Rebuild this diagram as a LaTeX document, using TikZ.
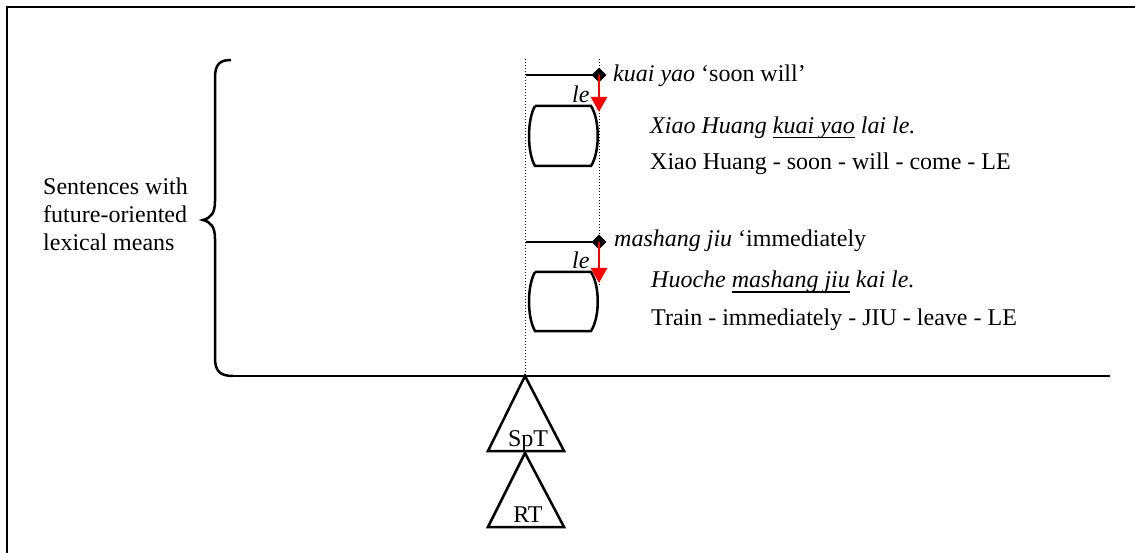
\documentclass[tikz,border=0pt]{standalone}
\usepackage{fontspec}
\setmainfont{Liberation Serif}
\usetikzlibrary{arrows.meta,shapes.geometric}
% underline at a fixed depth below the baseline
\newcommand\ulword[1]{\setbox0\hbox{#1}\rlap{\rule[-4.5pt]{\wd0}{1.4pt}}\box0\relax}

\begin{document}
\begin{tikzpicture}[x=1pt,y=-1pt,
  txt/.style={inner sep=0pt, anchor=base west, font=\fontsize{24}{28}\selectfont},
  ctxt/.style={inner sep=0pt, anchor=base, font=\fontsize{24}{28}\selectfont},
  itxt/.style={txt, font=\itshape\fontsize{24}{28}\selectfont},
  solid line/.style={line width=2.5pt},
  guide/.style={line width=1pt, dash pattern=on 1pt off 2pt},
  tipmark/.style={diamond, fill=black, inner sep=0pt, minimum size=15pt},
  lexarrow/.style={red, line width=2.5pt, -{Triangle[width=16pt,length=15pt]}},
  barrel/.style={line width=2.5pt}]
\useasboundingbox (0,0) rectangle (1135,553);
\begin{scope}
  \clip (0,0) rectangle (1135,553);
  \draw[line width=2.5pt] (7,7) rectangle (1160,580);
\end{scope}

% time guides
\coordinate (g1top) at (525.5,59);
\coordinate (g1bot) at (525.5,376);
\coordinate (g2top) at (599,59);
\coordinate (g2bot) at (599,285);
\draw[guide] (g1top) -- (g1bot);
\draw[guide] (g2top) -- (g2bot);

% main time line
\coordinate (tl0) at (232,376);
\coordinate (tl1) at (1110,376);
\draw[solid line] (tl0) -- (tl1);

% brace
\draw[solid line] (231,60) .. controls (220,60) and (215,64) .. (215,78)
  -- (215,201) .. controls (215,213) and (211,218) .. (203,220)
  .. controls (211,222) and (215,227) .. (215,239)
  -- (215,358) .. controls (215,371) and (220,376) .. (233,376);
\node[txt] (lbl1) at (43,195) {Sentences with};
\node[txt] (lbl2) at (43,223) {future-oriented};
\node[txt] (lbl3) at (43,251) {lexical means};

% first example
\coordinate (h1) at (525.5,75);
\node[tipmark] (d1) at (599,75) {};
\coordinate (a1) at (599,112);
\draw[solid line] (h1) -- (d1.center);
\draw[lexarrow] (d1.center) -- (a1);
\node[itxt] (le1) at (572,103) {le};
\draw[barrel] (535,106) -- (591,106) .. controls (600,120) and (600,152) .. (591,166)
  -- (535,166) .. controls (527,152) and (527,120) .. (535,106);
\node[txt] (w1) at (613,82) {\textit{kuai yao} ‘soon will’};
\node[itxt] (s1) at (650,134) {Xiao Huang \ulword{kuai yao} lai le.};
\node[txt] (t1) at (650,170) {Xiao Huang - soon - will - come - LE};

% second example
\coordinate (h2) at (525.5,242);
\node[tipmark] (d2) at (599,242) {};
\coordinate (a2) at (599,283);
\draw[solid line] (h2) -- (d2.center);
\draw[lexarrow] (d2.center) -- (a2);
\node[itxt] (le2) at (572,269) {le};
\draw[barrel] (535,272) -- (591,272) .. controls (600,286) and (600,317) .. (591,331)
  -- (535,331) .. controls (527,317) and (527,286) .. (535,272);
\node[txt] (w2) at (614,247) {\textit{mashang jiu} ‘immediately};
\node[itxt] (s2) at (651,288) {Huoche \ulword{mashang jiu} kai le.};
\node[txt] (t2) at (651,325) {Train - immediately - JIU - leave - LE};

% SpT and RT
\draw[solid line] (525,376) -- (564,451) -- (488,451) -- cycle;
\node[ctxt] (spt) at (528,446) {SpT};
\draw[solid line] (525,453) -- (564,527) -- (488,527) -- cycle;
\node[ctxt] (rt) at (528,522) {RT};
\end{tikzpicture}
\end{document}
